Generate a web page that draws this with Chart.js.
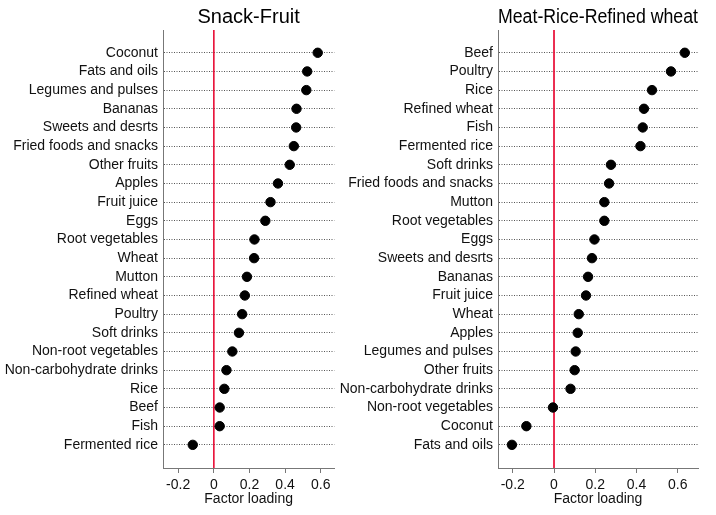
<!DOCTYPE html>
<html>
<head>
<meta charset="utf-8">
<script src="https://cdn.jsdelivr.net/npm/chart.js@4/dist/chart.umd.min.js"></script>
<style>
html,body{margin:0;padding:0;background:#fff;}
#wrap{position:relative;width:716px;height:515px;overflow:hidden;}
#c1{position:absolute;left:0;top:0;}
#c2{position:absolute;left:340px;top:0;}
</style>
</head>
<body>
<div id="wrap">
<canvas id="c1" width="340" height="515"></canvas>
<canvas id="c2" width="376" height="515"></canvas>
</div>
<script>
// ---- Data ----
const snackTitle = 'Snack-Fruit';
const snackFoods = ['Coconut','Fats and oils','Legumes and pulses','Bananas','Sweets and desrts','Fried foods and snacks','Other fruits','Apples','Fruit juice','Eggs','Root vegetables','Wheat','Mutton','Refined wheat','Poultry','Soft drinks','Non-root vegetables','Non-carbohydrate drinks','Rice','Beef','Fish','Fermented rice'];
const snackLoadings = [0.583,0.524,0.519,0.464,0.462,0.449,0.426,0.360,0.318,0.289,0.228,0.226,0.186,0.174,0.159,0.141,0.104,0.071,0.059,0.033,0.033,-0.118];

const meatTitle = 'Meat-Rice-Refined wheat';
const meatFoods = ['Beef','Poultry','Rice','Refined wheat','Fish','Fermented rice','Soft drinks','Fried foods and snacks','Mutton','Root vegetables','Eggs','Sweets and desrts','Bananas','Fruit juice','Wheat','Apples','Legumes and pulses','Other fruits','Non-carbohydrate drinks','Non-root vegetables','Coconut','Fats and oils'];
const meatLoadings = [0.634,0.567,0.475,0.436,0.430,0.419,0.276,0.267,0.244,0.244,0.196,0.184,0.165,0.155,0.120,0.115,0.105,0.100,0.080,-0.005,-0.134,-0.204];

const xTickValues = [-0.2, 0, 0.2, 0.4, 0.6];
const xAxisTitle = 'Factor loading';
const referenceLoading = 0;

// ---- Chart builder ----
const FONT = 'Liberation Sans, Arial, Helvetica, sans-serif';
Chart.defaults.font.family = FONT;

function makeChart(canvasId, title, foods, loadings, xmin, xmax, yAxisWidth, rightPad) {
  const n = foods.length;
  const ymin = -1.22, ymax = n - 1 + 1.24;
  return new Chart(document.getElementById(canvasId), {
    type: 'scatter',
    data: {
      datasets: [{
        type: 'line',
        data: [{x: referenceLoading, y: ymin}, {x: referenceLoading, y: ymax}],
        borderColor: '#e8123a',
        borderWidth: 1,
        pointRadius: 0,
        pointHoverRadius: 0,
        fill: false,
        order: 2
      }, {
        data: loadings.map((v, i) => ({x: v, y: i})),
        backgroundColor: '#000',
        borderColor: '#000',
        pointRadius: 4.7,
        pointHoverRadius: 4.7,
        showLine: false,
        order: 1
      }]
    },
    options: {
      responsive: false,
      animation: false,
      devicePixelRatio: 1,
      layout: {padding: {left: 0, right: rightPad, top: 0, bottom: 0}},
      plugins: {
        legend: {display: false},
        tooltip: {enabled: false},
        title: {
          display: true,
          text: title,
          fullSize: false,
          color: '#000',
          font: {family: FONT, size: 20, weight: 'normal'},
          padding: {top: 5, bottom: 1}
        }
      },
      scales: {
        x: {
          type: 'linear',
          min: xmin,
          max: xmax,
          afterBuildTicks: (s) => { s.ticks = xTickValues.map(v => ({value: v})); },
          afterFit: (s) => { s.height = 47; },
          ticks: {
            color: '#111',
            font: {family: FONT, size: 14},
            padding: 4,
            callback: (v) => String(Math.round(v * 10) / 10)
          },
          grid: {
            drawOnChartArea: false,
            color: '#777',
            lineWidth: 1,
            tickLength: 5,
            tickColor: '#777'
          },
          border: {display: true, color: '#777', width: 1},
          title: {
            display: true,
            text: xAxisTitle,
            color: '#111',
            font: {family: FONT, size: 14},
            padding: {top: 0, bottom: 7}
          }
        },
        y: {
          type: 'linear',
          reverse: true,
          min: ymin,
          max: ymax,
          afterBuildTicks: (s) => { s.ticks = foods.map((f, i) => ({value: i})); },
          afterFit: (s) => { s.width = yAxisWidth; },
          ticks: {
            color: '#111',
            font: {family: FONT, size: 14},
            padding: 5,
            autoSkip: false,
            callback: (v) => foods[v]
          },
          grid: {
            color: '#555',
            lineWidth: 1,
            drawTicks: false
          },
          border: {display: true, color: '#777', width: 1, dash: [1, 1.5], dashOffset: 0}
        }
      }
    }
  });
}

const c1 = makeChart('c1', snackTitle, snackFoods, snackLoadings, -0.285, 0.676, 163, 2);
const c2 = makeChart('c2', meatTitle, meatFoods, meatLoadings, -0.2715, 0.698, 158, 18);
</script>
</body>
</html>
